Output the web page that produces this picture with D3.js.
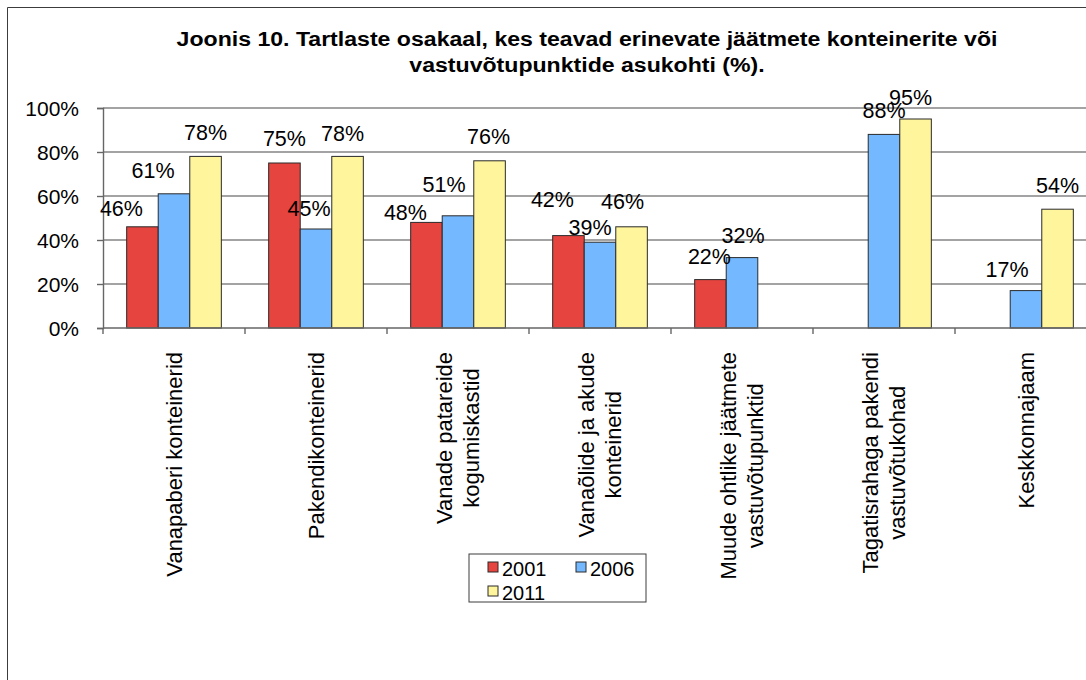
<!DOCTYPE html>
<html>
<head>
<meta charset="utf-8">
<script src="https://cdn.jsdelivr.net/npm/d3@7"></script>
<style>
  body { margin: 0; background: #fff; }
  svg { display: block; }
  text { font-family: "Liberation Sans", Arial, sans-serif; fill: #000; }
</style>
</head>
<body>
<svg id="chart" width="1086" height="680"></svg>
<script>
// Chart data
var titleLines = ["Joonis 10. Tartlaste osakaal, kes teavad erinevate jäätmete konteinerite või",
                  "vastuvõtupunktide asukohti (%)."];
var categories = [
    ["Vanapaberi konteinerid"],
    ["Pakendikonteinerid"],
    ["Vanade patareide", "kogumiskastid"],
    ["Vanaõlide ja akude", "konteinerid"],
    ["Muude ohtlike jäätmete", "vastuvõtupunktid"],
    ["Tagatisrahaga pakendi", "vastuvõtukohad"],
    ["Keskkonnajaam"]
];
var years = ["2001", "2006", "2011"];
var values2001 = [46, 75, 48, 42, 22, null, null];
var values2006 = [61, 45, 51, 39, 32, 88, 17];
var values2011 = [78, 78, 76, 46, null, 95, 54];
var yTicks = [0, 20, 40, 60, 80, 100];

// hand-moved data labels in the original (dx, dy in px)
var nudge2001 = [[-21, 5], [0, -1], [-21, 14], [-16, -13], [-1, 0], [0, 0], [0, 0]];
var nudge2006 = [[-21, 0], [-7, 3], [-14, -8], [-10, 9], [1, 1], [0, 0], [-19, 2]];
var nudge2011 = [[0, 0], [-5, 1], [-1, -1], [-9, -2], [0, 0], [-5, 2], [0, 0]];

var colors = { "2001": "#e5443f", "2006": "#74b9ff", "2011": "#fff59c" };

var series = [
    { year: "2001", values: values2001, nudge: nudge2001 },
    { year: "2006", values: values2006, nudge: nudge2006 },
    { year: "2011", values: values2011, nudge: nudge2011 }
];

var svg = d3.select("#chart");

// outer chart frame (cropped on right and bottom)
svg.append("path")
    .attr("d", "M7.5,680 V7.5 H1086")
    .attr("fill", "none")
    .attr("stroke", "#3c3c3c")
    .attr("stroke-width", 1);

// title, slightly stretched like the original
svg.append("g")
    .attr("transform", "translate(587,0) scale(1.1,1)")
    .selectAll("text")
    .data(titleLines)
    .join("text")
    .attr("x", 0)
    .attr("y", function(d, i) { return 46 + i * 26; })
    .attr("text-anchor", "middle")
    .style("font-weight", "bold")
    .style("font-size", "21px")
    .text(function(d) { return d; });

var plot = { left: 103, right: 1097, top: 108, bottom: 328 };

var x0 = d3.scaleBand()
    .domain(d3.range(categories.length))
    .range([plot.left, plot.right])
    .padding(0);

var x1 = d3.scaleBand()
    .domain(years)
    .range([0, x0.bandwidth()])
    .paddingInner(0)
    .paddingOuter(0.75);

var y = d3.scaleLinear()
    .domain([0, 100])
    .range([plot.bottom, plot.top]);

// gridlines
svg.append("g").selectAll("line")
    .data(yTicks.slice(1))
    .join("line")
    .attr("x1", plot.left)
    .attr("x2", plot.right)
    .attr("y1", function(d) { return y(d); })
    .attr("y2", function(d) { return y(d); })
    .attr("stroke", "#858585")
    .attr("stroke-width", 1.6);

// y axis
var yAxis = svg.append("g")
    .attr("transform", "translate(" + plot.left + ",0)")
    .call(d3.axisLeft(y)
        .tickValues(yTicks)
        .tickSize(6)
        .tickPadding(18)
        .tickFormat(function(d) { return d + "%"; }));
yAxis.select(".domain").attr("stroke", "#666").attr("stroke-width", 1.4);
yAxis.selectAll(".tick line").attr("stroke", "#666").attr("stroke-width", 1.4);
yAxis.selectAll(".tick text")
    .style("font-size", "21px")
    .style("font-family", "'Liberation Sans', Arial, sans-serif")
    .attr("fill", "#000")
    .attr("dy", "0.36em");

// bars
var groups = svg.append("g").selectAll("g")
    .data(series)
    .join("g")
    .attr("fill", function(s) { return colors[s.year]; });

groups.selectAll("rect")
    .data(function(s) {
        return s.values.map(function(v, i) { return { year: s.year, i: i, v: v }; })
            .filter(function(d) { return d.v !== null; });
    })
    .join("rect")
    .attr("x", function(d) { return x0(d.i) + x1(d.year); })
    .attr("y", function(d) { return y(d.v); })
    .attr("width", x1.bandwidth())
    .attr("height", function(d) { return y(0) - y(d.v); })
    .attr("stroke", "#2a2a2a")
    .attr("stroke-width", 1);

// x axis line and category boundary ticks
svg.append("line")
    .attr("x1", plot.left).attr("x2", plot.right)
    .attr("y1", plot.bottom).attr("y2", plot.bottom)
    .attr("stroke", "#666").attr("stroke-width", 1.6);

svg.append("g").selectAll("line")
    .data(d3.range(categories.length + 1))
    .join("line")
    .attr("x1", function(i) { return plot.left + i * x0.step(); })
    .attr("x2", function(i) { return plot.left + i * x0.step(); })
    .attr("y1", plot.bottom)
    .attr("y2", plot.bottom + 6)
    .attr("stroke", "#666")
    .attr("stroke-width", 1.4);

// data labels
var labels = svg.append("g");
series.forEach(function(s) {
    s.values.forEach(function(v, i) {
        if (v === null) return;
        labels.append("text")
            .attr("x", x0(i) + x1(s.year) + x1.bandwidth() / 2 + s.nudge[i][0])
            .attr("y", y(v) - 16 + s.nudge[i][1])
            .attr("text-anchor", "middle")
            .style("font-size", "21.5px")
            .text(v + "%");
    });
});

// rotated category labels
var lineGap = 27;
var catG = svg.append("g");
categories.forEach(function(lines, i) {
    var cx = x0(i) + x0.bandwidth() / 2;
    var t = catG.append("text")
        .attr("transform", "rotate(-90)")
        .attr("text-anchor", "middle")
        .style("font-size", "22px");
    var spans = t.selectAll("tspan")
        .data(lines)
        .join("tspan")
        .attr("y", function(d, k) { return cx + (k - (lines.length - 1) / 2) * lineGap; })
        .attr("dy", "0.35em")
        .text(function(d) { return d; });
    var maxLen = d3.max(spans.nodes(), function(n) { return n.getComputedTextLength(); });
    spans.attr("x", -(plot.bottom + 24 + maxLen / 2));
});

// legend
var legend = svg.append("g").attr("transform", "translate(469,554)");
legend.append("rect")
    .attr("width", 177).attr("height", 48)
    .attr("fill", "#fff")
    .attr("stroke", "#3c3c3c").attr("stroke-width", 1);

var items = legend.selectAll("g.item")
    .data(years)
    .join("g")
    .attr("class", "item")
    .attr("transform", function(d, i) {
        return "translate(" + (19 + (i % 2) * 88) + "," + (8 + Math.floor(i / 2) * 24) + ")";
    });
items.append("rect")
    .attr("width", 10).attr("height", 10)
    .attr("fill", function(d) { return colors[d]; })
    .attr("stroke", "#2a2a2a").attr("stroke-width", 1);
items.append("text")
    .attr("x", 14)
    .attr("y", 14)
    .style("font-size", "20px")
    .text(function(d) { return d; });
</script>
</body>
</html>
